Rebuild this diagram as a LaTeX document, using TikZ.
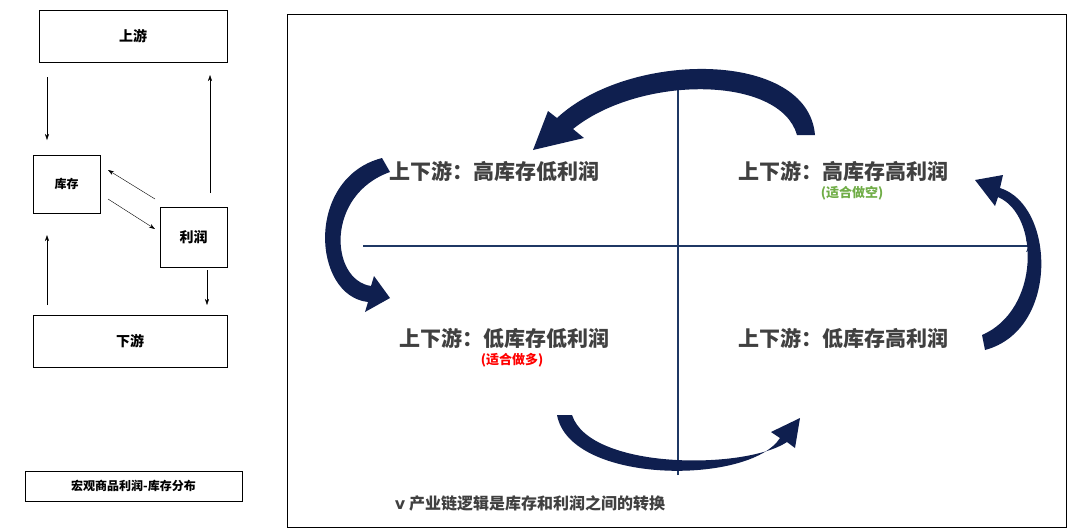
\documentclass[tikz,border=0pt]{standalone}
\usepackage{fontspec}
\setmainfont{Noto Sans CJK SC}
\newfontfamily\symfont{DejaVu Sans}
\usetikzlibrary{arrows.meta}
\definecolor{navy}{HTML}{0F1F4F}
\definecolor{axisblue}{HTML}{1F3864}
\definecolor{txtgray}{HTML}{404040}
\definecolor{okgreen}{HTML}{70AD47}
\begin{document}
\begin{tikzpicture}[x=1pt,y=-1pt,
  box/.style={draw, thin, inner sep=0pt, font=\fontsize{14}{16}\selectfont\bfseries},
  flow/.style={-{Stealth[length=6pt,width=4pt]}, thin},
  quad/.style={text=txtgray, font=\fontsize{21}{24}\selectfont\bfseries},
  note/.style={font=\fontsize{13}{15}\selectfont\bfseries}]
\useasboundingbox (0,0) rectangle (1080,531);
% left side: flow of boxes
\node[box, minimum width=188, minimum height=52] (up) at (133,36) {上游};
\node[box, minimum width=67, minimum height=58, font=\fontsize{12}{14}\selectfont\bfseries] (inv) at (66.5,184) {库存};
\node[box, minimum width=67, minimum height=60] (prof) at (193.5,237) {利润};
\node[box, minimum width=194, minimum height=52] (down) at (130,341) {下游};
\node[box, minimum width=217, minimum height=30, font=\fontsize{12}{14}\selectfont\bfseries] (cap) at (133.5,486) {宏观商品利润-库存分布};
\draw[flow] (47,77) -- (47,140);
\draw[flow] (210,193) -- (210,75);
\draw[flow] (155,199) -- (108,170);
\draw[flow] (108,199) -- (155,229);
\draw[flow] (207,270) -- (207,305);
\draw[flow] (47,305) -- (47,235);
% right side: the four quadrants
\draw (287,14) rectangle (1066,527);
\coordinate (xl) at (363,246);
\coordinate (xr) at (1038,246);
\coordinate (yb) at (678,475);
\coordinate (yt) at (678,76);
\draw[axisblue, line width=1.5pt] (xl) -- (1028,246);
\draw[axisblue, line width=1.5pt] (yb) -- (678,86);
\fill[axisblue] (xr) -- (1026,240) -- (1029,246) -- (1026,252) -- cycle;
\fill[axisblue] (yt) -- (672,88) -- (678,85) -- (684,88) -- cycle;
\node[quad] (q2) at (494,171) {上下游：高库存低利润};
\node[quad] (q1) at (843,171) {上下游：高库存高利润};
\node[quad] (q3) at (504,338) {上下游：低库存低利润};
\node[quad] (q4) at (843,338) {上下游：低库存高利润};
\node[note, text=okgreen] (short) at (852,193) {(适合做空)};
\node[note, text=red] (long) at (512,360) {(适合做多)};
\node[font=\fontsize{16}{18}\selectfont\bfseries, text=txtgray] (logic) at (530,503) {{\symfont\bfseries v} 产业链逻辑是库存和利润之间的转换};
% curved arrows
\fill[navy] (815,135) .. controls (808,50) and (630,50) .. (557,118) -- (548,111) -- (533,150)
  -- (584,138) -- (573,129) .. controls (640,75) and (780,75) .. (797,135) -- cycle;
\fill[navy] (382,158) .. controls (305,178) and (312,296) .. (368,302) -- (365,312) -- (390,298)
  -- (374,276) -- (371,286) .. controls (330,280) and (325,195) .. (390,172) -- cycle;
\fill[navy] (985,350) .. controls (1060,330) and (1055,205) .. (1000,188) -- (1003,175) -- (975,180)
  -- (995,206) -- (998,197) .. controls (1040,215) and (1040,310) .. (982,335) -- cycle;
\fill[navy] (557,415) .. controls (570,485) and (750,485) .. (780,438) -- (771,432) -- (800,418)
  -- (795,448) -- (787,442) .. controls (745,470) and (590,470) .. (572,415) -- cycle;
\end{tikzpicture}
\end{document}
